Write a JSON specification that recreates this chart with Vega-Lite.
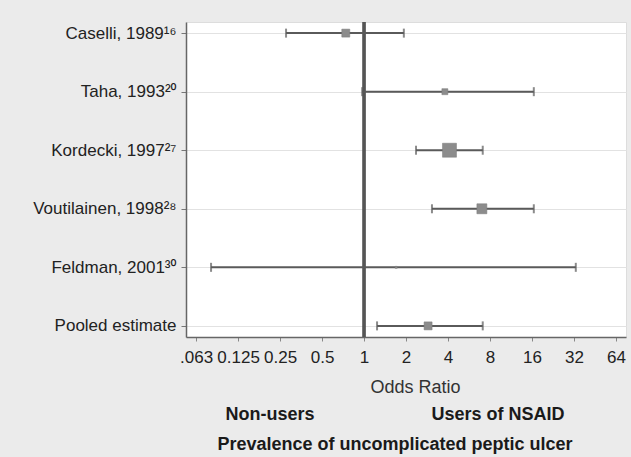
{
  "$schema": "https://vega.github.io/schema/vega-lite/v6.json",
  "autosize": {"type": "none"},
  "width": 440,
  "height": 315,
  "padding": {"left": 186, "top": 22, "right": 5, "bottom": 120},
  "background": "#ebebeb",
  "config": {
    "view": {"fill": "white", "stroke": "#dddddd"},
    "font": "Liberation Sans, Noto Sans"
  },
  "title": {
    "text": ["Non-users\u2003\u2003\u2003\u2003\u2003\u2003\u2002Users of NSAID", "Prevalence of uncomplicated peptic ulcer"],
    "orient": "bottom",
    "anchor": "middle",
    "frame": "group",
    "fontSize": 18,
    "fontWeight": "bold",
    "color": "#1a1a1a",
    "lineHeight": 30,
    "offset": 10,
    "dx": -11
  },
  "data": {
    "values": [
      {"study": "Caselli, 1989¹⁶", "or": 0.74, "lo": 0.276, "hi": 1.93, "w": 64},
      {"study": "Taha, 1993²⁰", "or": 3.8, "lo": 0.97, "hi": 16.5, "w": 36},
      {"study": "Kordecki, 1997²⁷", "or": 4.1, "lo": 2.36, "hi": 7.1, "w": 196},
      {"study": "Voutilainen, 1998²⁸", "or": 7.0, "lo": 3.07, "hi": 16.5, "w": 100},
      {"study": "Feldman, 2001³⁰", "or": 1.7, "lo": 0.08, "hi": 33, "w": 4},
      {"study": "Pooled estimate", "or": 2.88, "lo": 1.24, "hi": 7.1, "w": 64}
    ]
  },
  "encoding": {
    "y": {
      "field": "study",
      "type": "nominal",
      "sort": null,
      "scale": {"type": "point", "padding": 0.19},
      "axis": {
        "title": null,
        "labelFontSize": 17,
        "labelColor": "#222",
        "labelPadding": 5,
        "tickSize": 5,
        "tickColor": "#777",
        "domainColor": "#666",
        "domainWidth": 1.5,
        "grid": true,
        "gridColor": "#e2e2e2",
        "gridWidth": 1
      }
    }
  },
  "layer": [
    {
      "mark": {"type": "rule", "color": "#555555", "strokeWidth": 2.5},
      "encoding": {
        "x": {"datum": 1, "type": "quantitative"},
        "y": null
      }
    },
    {
      "mark": {"type": "rule", "color": "#5a5a5a", "strokeWidth": 2},
      "encoding": {
        "x": {
          "field": "lo",
          "type": "quantitative",
          "scale": {"type": "log", "base": 2, "domain": [0.0529, 75.6], "nice": false},
          "axis": {
            "title": "Odds Ratio",
            "titleFontSize": 18,
            "titleFontWeight": "normal",
            "titleColor": "#333",
            "titlePadding": 13,
            "titleX": 229,
            "values": [0.0625, 0.125, 0.25, 0.5, 1, 2, 4, 8, 16, 32, 64],
            "labelExpr": "datum.value < 0.07 ? '.063' : '' + datum.value",
            "labelFontSize": 17,
            "labelColor": "#222",
            "labelPadding": 8,
            "tickSize": 4,
            "tickColor": "#888",
            "domainColor": "#666",
            "domainWidth": 1.5,
            "grid": false
          }
        },
        "x2": {"field": "hi"}
      }
    },
    {
      "mark": {"type": "tick", "color": "#5a5a5a", "thickness": 2, "size": 9},
      "encoding": {"x": {"field": "lo", "type": "quantitative"}}
    },
    {
      "mark": {"type": "tick", "color": "#5a5a5a", "thickness": 2, "size": 9},
      "encoding": {"x": {"field": "hi", "type": "quantitative"}}
    },
    {
      "mark": {"type": "square", "filled": true, "color": "#8c8c8c", "opacity": 1, "stroke": "#7a7a7a", "strokeWidth": 0.5},
      "encoding": {
        "x": {"field": "or", "type": "quantitative"},
        "size": {"field": "w", "type": "quantitative", "scale": {"domain": [0, 200], "range": [0, 200]}, "legend": null}
      }
    }
  ]
}
